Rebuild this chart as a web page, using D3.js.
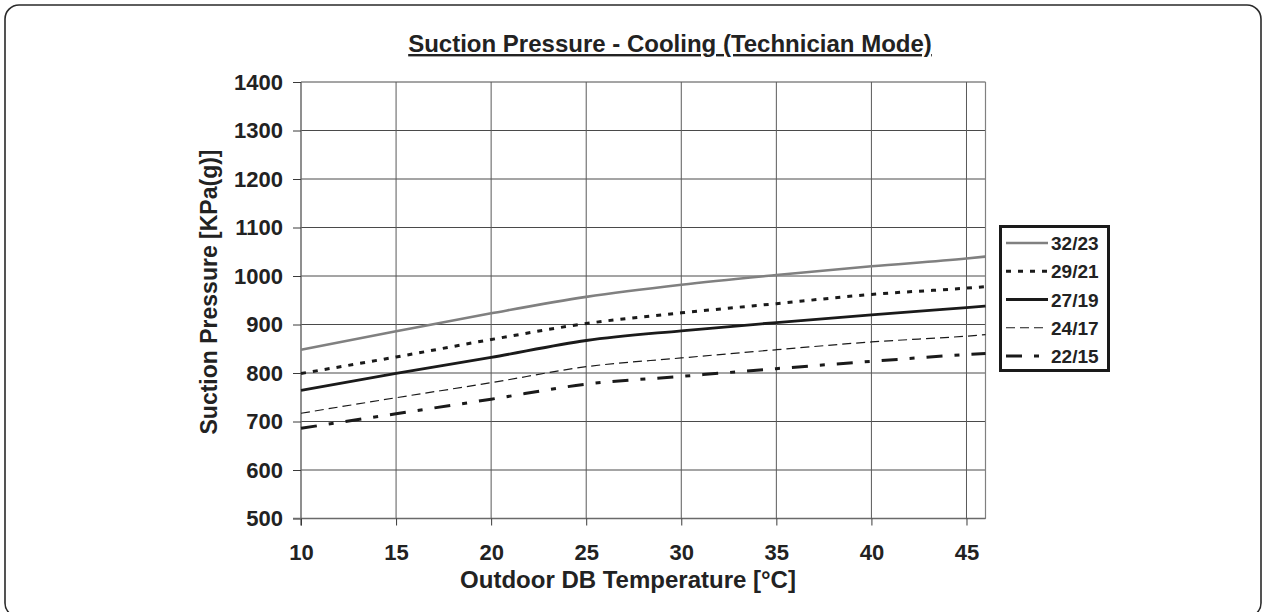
<!DOCTYPE html>
<html>
<head>
<meta charset="utf-8">
<script src="https://cdn.jsdelivr.net/npm/d3@7"></script>
<style>
  html, body { margin: 0; padding: 0; background: #fff; }
  svg { display: block; font-family: "Liberation Sans", Arial, sans-serif; font-weight: bold; }
</style>
</head>
<body>
<svg id="chart" width="1263" height="612"></svg>
<script>
// Outdoor dry-bulb temperatures (°C) at which pressures are read
const temps = [10, 15, 20, 25, 30, 35, 40, 45, 46];

// Suction pressure, kPa(g), for each indoor condition (DB/WB)
const p3223 = [848, 886, 923, 957, 982, 1002, 1020, 1036, 1040];
const p2921 = [799, 833, 869, 902, 924, 943, 962, 975, 978];
const p2719 = [764, 799, 832, 867, 887, 904, 920, 935, 938];
const p2417 = [717, 749, 780, 813, 831, 848, 864, 876, 879];
const p2215 = [686, 716, 746, 777, 793, 809, 824, 838, 840];

const seriesNames = ["32/23", "29/21", "27/19", "24/17", "22/15"];
const xTicks = [10, 15, 20, 25, 30, 35, 40, 45];
const yTicks = [500, 600, 700, 800, 900, 1000, 1100, 1200, 1300, 1400];

const styles = [
  { stroke: "#808080", width: 2.6, dash: null },
  { stroke: "#1a1a1a", width: 3,   dash: "5,7" },
  { stroke: "#1a1a1a", width: 2.8, dash: null },
  { stroke: "#1a1a1a", width: 1.2, dash: "9,5" },
  { stroke: "#1a1a1a", width: 3,   dash: "16,12,5,12" }
];

const series = [p3223, p2921, p2719, p2417, p2215].map((vals, i) => ({
  name: seriesNames[i],
  points: temps.map((t, j) => ({ t, p: vals[j] })),
  style: styles[i]
}));

const svg = d3.select("#chart");

// Rounded outer frame
svg.append("rect")
  .attr("x", 5).attr("y", 5)
  .attr("width", 1256).attr("height", 612)
  .attr("rx", 14).attr("ry", 14)
  .attr("fill", "#fff")
  .attr("stroke", "#2a2a2a").attr("stroke-width", 1.6);

const x = d3.scaleLinear().domain([10, 46]).range([301, 985.5]);
const y = d3.scaleLinear().domain([500, 1400]).range([518.5, 82]);

const plot = svg.append("g");

// Grid
plot.append("g").selectAll("line.h").data(yTicks).join("line")
  .attr("x1", x(10)).attr("x2", x(46))
  .attr("y1", d => y(d)).attr("y2", d => y(d))
  .attr("stroke", "#4a4a4a").attr("stroke-width", 1);
plot.append("g").selectAll("line.v").data(xTicks.slice(1)).join("line")
  .attr("x1", d => x(d)).attr("x2", d => x(d))
  .attr("y1", y(1400)).attr("y2", y(500))
  .attr("stroke", "#5a5a5a").attr("stroke-width", 1);
// Right border of plot area
plot.append("line")
  .attr("x1", x(46)).attr("x2", x(46))
  .attr("y1", y(1400)).attr("y2", y(500))
  .attr("stroke", "#808080").attr("stroke-width", 1.2);

// Axes
const yAxis = d3.axisLeft(y).tickValues(yTicks).tickSize(8).tickPadding(10).tickFormat(d3.format("d"));
const xAxis = d3.axisBottom(x).tickValues(xTicks).tickSize(7).tickPadding(19).tickFormat(d3.format("d"));

const gy = svg.append("g").attr("transform", `translate(${x(10)},0)`).call(yAxis);
const gx = svg.append("g").attr("transform", `translate(0,${y(500)})`).call(xAxis);

[gy, gx].forEach(g => {
  g.select(".domain").attr("stroke", "#6a6a6a").attr("stroke-width", 1.5);
  g.selectAll(".tick line").attr("stroke", "#3a3a3a").attr("stroke-width", 1);
  g.selectAll(".tick text")
    .attr("fill", "#222")
    .attr("font-family", "'Liberation Sans', Arial, sans-serif")
    .attr("font-weight", "bold")
    .attr("font-size", 22);
});
gy.select(".domain").attr("d", `M0,${y(1400)}V${y(500) + 7}`);
gx.select(".domain").attr("d", `M${x(10) - 8},0H${x(46)}`);

// Series lines
const line = d3.line().x(d => x(d.t)).y(d => y(d.p)).curve(d3.curveMonotoneX);
svg.append("g").selectAll("path").data(series).join("path")
  .attr("d", d => line(d.points))
  .attr("fill", "none")
  .attr("stroke", d => d.style.stroke)
  .attr("stroke-width", d => d.style.width)
  .attr("stroke-dasharray", d => d.style.dash);

// Title (underlined)
svg.append("text")
  .attr("x", 670).attr("y", 52)
  .attr("text-anchor", "middle")
  .attr("font-size", 24)
  .attr("fill", "#222")
  .attr("text-decoration", "underline")
  .text("Suction Pressure - Cooling (Technician Mode)");

// Axis titles
svg.append("text")
  .attr("x", 628).attr("y", 588)
  .attr("text-anchor", "middle")
  .attr("font-size", 24)
  .attr("fill", "#222")
  .text("Outdoor DB Temperature [°C]");

svg.append("text")
  .attr("transform", "translate(217,292) rotate(-90)")
  .attr("text-anchor", "middle")
  .attr("font-size", 23)
  .attr("fill", "#222")
  .text("Suction Pressure [KPa(g)]");

// Legend
const legend = svg.append("g");
legend.append("rect")
  .attr("x", 1000.5).attr("y", 226.5)
  .attr("width", 108).attr("height", 144)
  .attr("fill", "#fff")
  .attr("stroke", "#1a1a1a").attr("stroke-width", 3);

const ly = d3.scalePoint().domain(seriesNames).range([243, 356]);
const items = legend.selectAll("g.item").data(series).join("g")
  .attr("transform", d => `translate(0,${ly(d.name)})`);
items.append("line")
  .attr("x1", 1006).attr("x2", 1048)
  .attr("y1", 0).attr("y2", 0)
  .attr("stroke", d => d.style.stroke)
  .attr("stroke-width", d => d.style.width)
  .attr("stroke-dasharray", d => d.style.dash);
items.append("text")
  .attr("x", 1051).attr("y", 7)
  .attr("font-size", 19)
  .attr("fill", "#222")
  .text(d => d.name);
</script>
</body>
</html>
